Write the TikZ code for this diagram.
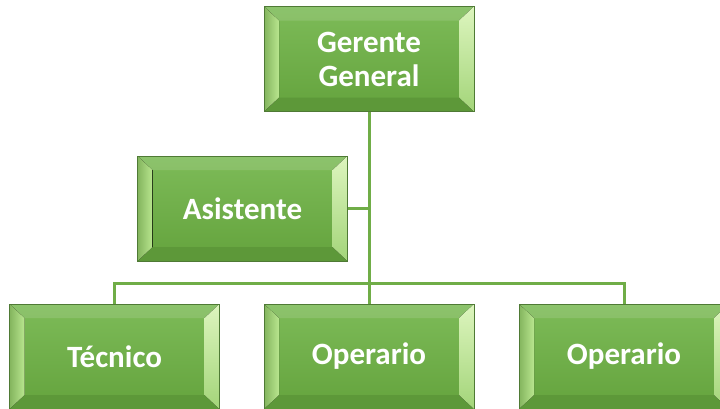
\documentclass[tikz,border=0pt]{standalone}
\usepackage{fontspec}
\setmainfont{Carlito}
\usetikzlibrary{calc}
\definecolor{conn}{HTML}{70AD47}
\definecolor{faceTop}{HTML}{7DBB58}
\definecolor{faceBot}{HTML}{64A33D}
\definecolor{edge}{HTML}{4F7A35}
\definecolor{bevL}{HTML}{B9E68F}
\definecolor{bevR}{HTML}{DDF5BE}
\definecolor{bevB}{HTML}{5D9839}
\tikzset{
  box/.style={
    minimum width=210pt, minimum height=105pt, inner sep=0pt,
    top color=faceTop, bottom color=faceBot,
    draw=edge, line width=0.8pt,
    text=white, align=center,
    font=\fontsize{31}{34}\selectfont\bfseries,
    path picture={
      \coordinate (pa) at (path picture bounding box.north west);
      \coordinate (pb) at (path picture bounding box.north east);
      \coordinate (pc) at (path picture bounding box.south east);
      \coordinate (pd) at (path picture bounding box.south west);
      \coordinate (qa) at ($(pa)+(15pt,-14pt)$);
      \coordinate (qb) at ($(pb)+(-15pt,-14pt)$);
      \coordinate (qc) at ($(pc)+(-15pt,14pt)$);
      \coordinate (qd) at ($(pd)+(15pt,14pt)$);
      \fill[white, opacity=0.12] (pa) -- (pb) -- (qb) -- (qa) -- cycle;
      \fill[bevB] (pd) -- (pc) -- (qc) -- (qd) -- cycle;
      \fill[left color=conn!85!black!60!bevL, right color=bevL] (pa) -- (qa) -- (qd) -- (pd) -- cycle;
      \fill[top color=bevR, bottom color=bevL!70!conn] (pb) -- (qb) -- (qc) -- (pc) -- cycle;
    }
  },
  link/.style={draw=conn, line width=3pt}
}
\begin{document}
\begin{tikzpicture}[x=1pt, y=-1pt]
\useasboundingbox (0,0) rectangle (720,408);
\node[box] (ger) at (369,59) {Gerente\\General};
\node[box] (asi) at (242.5,208.5) {Asistente};
\node[box] (tec) at (114.5,356.5) {Técnico};
\node[box] (op1) at (369,356.5) {Operario};
\node[box] (op2) at (624,356.5) {Operario};
\coordinate (bus) at (369,283);
\draw[link] (ger.south) -- (op1.north);
\draw[link] (asi.east) -- (asi.east -| ger.south);
\draw[link] (tec.north) |- (bus) -| (op2.north);
\end{tikzpicture}
\end{document}
